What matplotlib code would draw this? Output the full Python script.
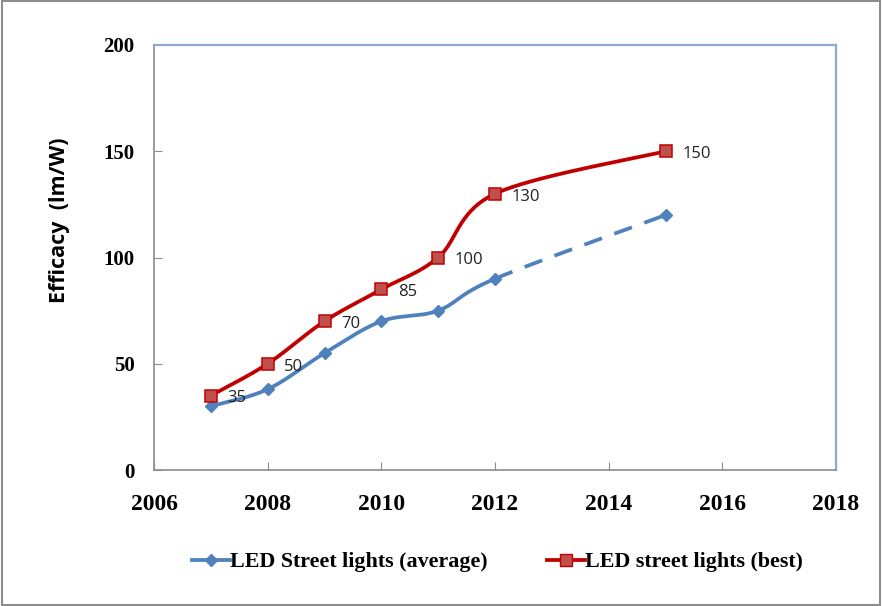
import numpy as np
import matplotlib
matplotlib.use("Agg")
import matplotlib.pyplot as plt
from matplotlib.patches import Rectangle
from matplotlib.lines import Line2D

years_avg = [2007, 2008, 2009, 2010, 2011, 2012, 2015]
avg_vals = [30, 38, 55, 70, 75, 90, 120]
years_best = [2007, 2008, 2009, 2010, 2011, 2012, 2015]
best_vals = [35, 50, 70, 85, 100, 130, 150]
best_labels = ["35", "50", "70", "85", "100", "130", "150"]
x_ticks = [2006, 2008, 2010, 2012, 2014, 2016, 2018]
y_ticks = [0, 50, 100, 150, 200]
name_avg = "LED Street lights (average)"
name_best = "LED street lights (best)"

BLUE = "#4F81BD"
RED = "#C00000"
RED_FILL = "#C0504D"


def smooth_segments(xs, ys, n=40):
    """Excel-style Bezier smoothing; returns list of per-segment curves."""
    P = np.column_stack([xs, ys]).astype(float)
    m = len(P)
    segs = []
    for i in range(m - 1):
        p0 = P[i - 1] if i > 0 else P[i]
        p1 = P[i]
        p2 = P[i + 1]
        p3 = P[i + 2] if i + 2 < m else P[i + 1]
        c1 = p1 + (p2 - p0) / 6.0
        c2 = p2 - (p3 - p1) / 6.0
        t = np.linspace(0, 1, n)[:, None]
        b = ((1 - t) ** 3) * p1 + 3 * ((1 - t) ** 2) * t * c1 + 3 * (1 - t) * t ** 2 * c2 + t ** 3 * p2
        segs.append(b)
    return segs


fig = plt.figure(figsize=(8.82, 6.06), dpi=100)
ax = fig.add_axes([154 / 882, 1 - 470 / 606, (836 - 154) / 882, (470 - 45) / 606])

ax.set_xlim(2006, 2018)
ax.set_ylim(0, 200)

# average series
segs = smooth_segments(years_avg, avg_vals)
solid = np.vstack(segs[:-1])
ax.plot(solid[:, 0], solid[:, 1], color=BLUE, lw=2.7, solid_capstyle="round", zorder=3)
ax.plot(segs[-1][:, 0], segs[-1][:, 1], color=BLUE, lw=2.7, dashes=(5, 3.5), zorder=3)
ax.plot(years_avg, avg_vals, linestyle="none", marker="D", ms=6.5, color=BLUE,
        markeredgecolor=BLUE, zorder=4)

# best series
segs_b = smooth_segments(years_best, best_vals)
allb = np.vstack(segs_b)
ax.plot(allb[:, 0], allb[:, 1], color=RED, lw=2.7, zorder=5)
ax.plot(years_best, best_vals, linestyle="none", marker="s", ms=8, color=RED_FILL,
        markeredgecolor=RED, markeredgewidth=1.1, zorder=6)

for x, y, lab in zip(years_best, best_vals, best_labels):
    ax.annotate(lab, (x, y), xytext=(12, -2), textcoords="offset points",
                ha="left", va="center", fontsize=12, family="Open Sans", color="#222222",
                zorder=7)

ax.set_xticks(x_ticks)
ax.set_yticks(y_ticks)
ax.set_xticklabels([str(v) for v in x_ticks], fontsize=17, fontweight="bold",
                   family="Liberation Serif")
ax.set_yticklabels([str(v) for v in y_ticks], fontsize=15, fontweight="bold",
                   family="Liberation Serif")
ax.tick_params(axis="x", direction="in", length=5.5, color="#8c8c8c", pad=17.5)
ax.tick_params(axis="y", direction="in", length=5.5, color="#8c8c8c", pad=14)

for s in ["left", "bottom"]:
    ax.spines[s].set_color("#8c8c8c")
    ax.spines[s].set_linewidth(1.2)
for s in ["top", "right"]:
    ax.spines[s].set_color("#8EA9D3")
    ax.spines[s].set_linewidth(1.6)

ax.set_ylabel("Efficacy  (lm/W)", fontsize=15.5, fontweight="bold", family="Open Sans")
ax.yaxis.set_label_coords((70 - 154) / 682, (470 - 220) / 425)

handles = [
    Line2D([0], [0], color=BLUE, lw=2.7, marker="D", ms=6, markeredgecolor=BLUE),
    Line2D([0], [0], color=RED, lw=2.7, marker="s", ms=8, markerfacecolor=RED_FILL,
           markeredgecolor=RED),
]
leg = fig.legend(handles, [name_avg, name_best], loc="center", bbox_to_anchor=(497.5 / 882, 1 - 562 / 606),
                 ncol=2, frameon=False, prop={"family": "Liberation Serif", "weight": "bold", "size": 15.8},
                 handlelength=1.75, handletextpad=0.0, columnspacing=2.7)

fig.patches.append(Rectangle((0.002, 0.002), 0.996, 0.996, transform=fig.transFigure,
                             fill=False, edgecolor="#8c8c8c", lw=1.5))

fig.savefig("out.png", dpi=100)
